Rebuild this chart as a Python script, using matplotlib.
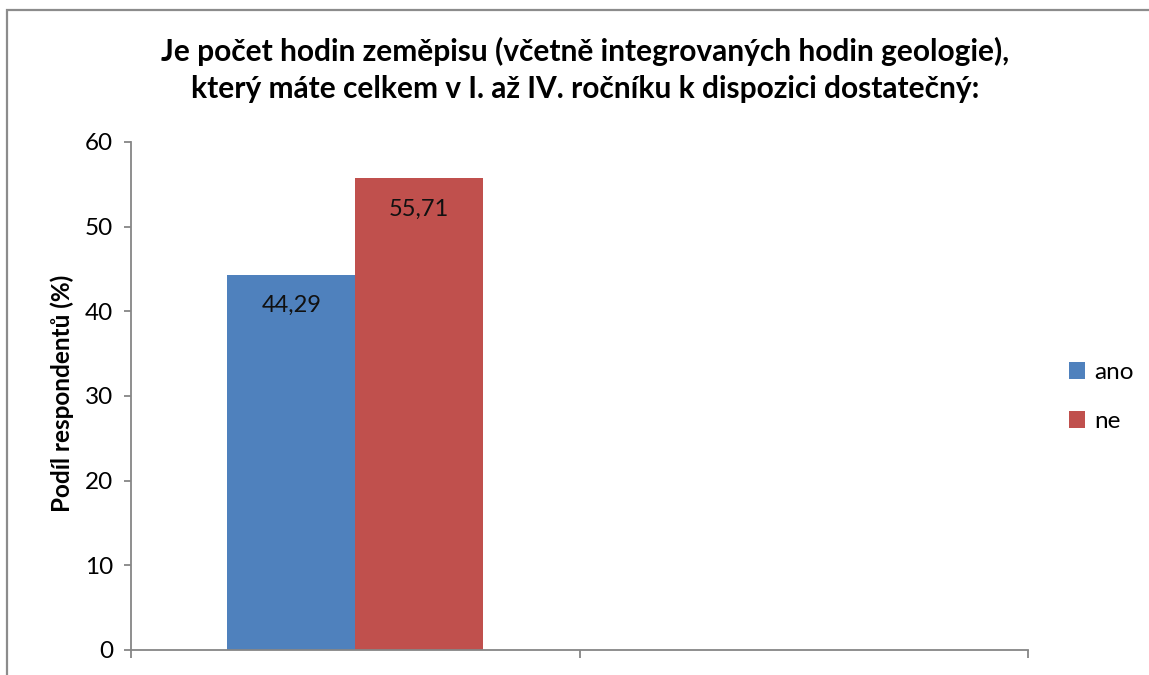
import matplotlib
matplotlib.use("Agg")
import matplotlib.pyplot as plt
from matplotlib.patches import Rectangle, Patch
import numpy as np

plt.rcParams["font.family"] = ["Lato", "DejaVu Sans"]

# data
series = ["ano", "ne"]
values = [44.29, 55.71]
value_labels = ["44,29", "55,71"]
colors = ["#4f81bd", "#c0504d"]
title = ("Je počet hodin zeměpisu (včetně integrovaných hodin geologie),\n"
         "který máte celkem v I. až IV. ročníku k dispozici dostatečný:")
ylabel = "Podíl respondentů (%)"

W, H = 1149, 675
fig = plt.figure(figsize=(W / 100, H / 100), dpi=100)

# chart frame (cut at right/bottom like the reference)
fig.patches.append(Rectangle((7 / W, -0.1), 1.2, 1 - 10 / H + 0.1,
                             transform=fig.transFigure, fill=False,
                             edgecolor="#8c8c8c", lw=1.6, zorder=0))

ax = fig.add_axes([131 / W, 25 / H, (1028 - 131) / W, (650 - 142) / H])

bw = 0.285
cat = 0.5
for i, (name, v, lab, c) in enumerate(zip(series, values, value_labels, colors)):
    x = cat + (i - 0.5) * bw
    ax.bar(x, v, width=bw, color=c, label=name, zorder=2)
    ax.annotate(lab, (x, v), xytext=(0, -22), textcoords="offset points",
                ha="center", va="center", fontsize=17, color="#111111")

ax.set_xlim(0, 2)
ax.set_ylim(0, 60)
ax.set_yticks(np.arange(0, 61, 10))
ax.set_xticks([0, 1, 2])
ax.set_xticklabels([])
ax.tick_params(axis="y", direction="out", length=5, width=1.3, color="#868686",
               labelsize=17.5, pad=8)
ax.tick_params(axis="x", direction="out", length=6, width=1.3, color="#868686")
for s in ["top", "right"]:
    ax.spines[s].set_visible(False)
for s in ["left", "bottom"]:
    ax.spines[s].set_color("#868686")
    ax.spines[s].set_linewidth(1.3)

fig.text(62 / W, 1 - 393 / H, ylabel, rotation=90, ha="center", va="center",
         fontsize=17.5, fontweight="bold")
fig.text(585 / W, 1 - 70 / H, title, ha="center", va="center",
         fontsize=21.5, fontweight="bold", linespacing=1.42)

handles = [Patch(facecolor=c, label=n) for n, c in zip(series, colors)]
fig.legend(handles=handles, loc="center left", bbox_to_anchor=(1069 / W, 1 - 397 / H),
           frameon=False, fontsize=17.5, handlelength=0.65, handleheight=0.65,
           handletextpad=0.4, labelspacing=1.15, borderpad=0, borderaxespad=0)

fig.savefig("out.png", dpi=100)
